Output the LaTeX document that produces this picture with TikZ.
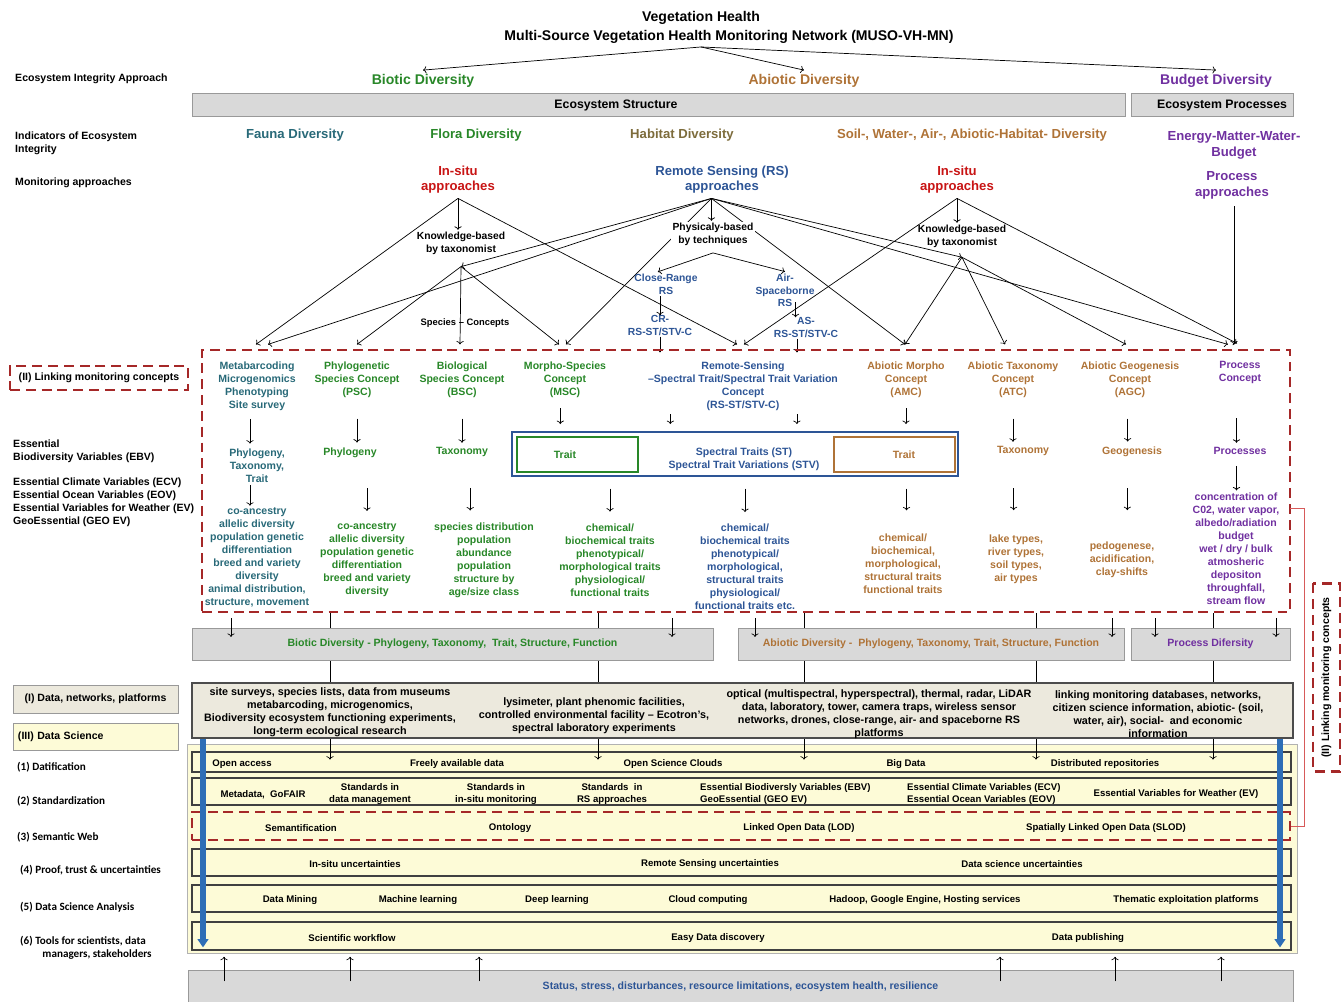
\documentclass[tikz,border=0pt]{standalone}
\usepackage{fontspec}
\setmainfont{Liberation Sans}
\newfontfamily\califont{Carlito}
\usetikzlibrary{arrows.meta}
\definecolor{bioticgreen}{RGB}{40,135,40}
\definecolor{abioticbrown}{RGB}{175,115,55}
\definecolor{budgetpurple}{RGB}{112,48,160}
\definecolor{insitured}{RGB}{200,20,20}
\definecolor{rsblue}{RGB}{45,85,150}
\definecolor{faunateal}{RGB}{40,105,120}
\definecolor{habitatolive}{RGB}{125,108,60}
\definecolor{dashred}{RGB}{165,40,40}
\definecolor{barfill}{RGB}{217,217,217}
\definecolor{datafill}{RGB}{236,233,221}
\definecolor{scifill}{RGB}{253,251,215}
\definecolor{flowblue}{RGB}{46,110,182}
\definecolor{linkred}{RGB}{215,90,90}

\begin{document}
\begin{tikzpicture}[x=0.03cm, y=-0.03cm,
  every node/.style={inner sep=0pt, yshift=-1.2pt, align=center, font=\bfseries\fontsize{9}{11.1}\selectfont},
  boxnode/.style={yshift=1.2pt},
  titletext/.style={font=\bfseries\fontsize{12}{14}\selectfont},
  headtext/.style={font=\bfseries\fontsize{12}{14}\selectfont},
  subhead/.style={font=\bfseries\fontsize{11.2}{13.2}\selectfont},
  bartext/.style={font=\bfseries\fontsize{10.5}{12}\selectfont},
  sidelabel/.style={anchor=west, align=left, font=\bfseries\fontsize{9}{11.1}\selectfont},
  steplabel/.style={anchor=west, align=left, font=\califont\bfseries\fontsize{9.5}{11.3}\selectfont},
  smalltext/.style={font=\bfseries\fontsize{8.8}{10.6}\selectfont},
  rowtext/.style={font=\bfseries\fontsize{8.2}{10.2}\selectfont},
  datatext/.style={font=\bfseries\fontsize{9.2}{11}\selectfont},
  arr/.style={->, line width=0.6pt},
  drop/.style 2 args={->, line width=0.6pt, shorten <=#1, shorten >=#2},
  graybar/.style={boxnode, draw=black!40, fill=barfill, line width=0.8pt},
  redbox/.style={draw=dashred, dash pattern=on 8.5pt off 5pt, line width=2.4pt},
  rowbox/.style={boxnode, draw=black!75, fill=scifill, line width=1pt, minimum width=32.97cm},
  flow/.style={-{Triangle[width=9pt,length=7pt]}, line width=4.3pt, draw=flowblue}
]
\useasboundingbox (0,0) rectangle (1343,1001);

% title and integrity approach
\node[titletext] (veg) at (701,16) {Vegetation Health};
\node[titletext] (muso) at (729,35) {Multi-Source Vegetation Health Monitoring Network (MUSO-VH-MN)};
\coordinate (split) at ([yshift=-2pt]muso.south -| veg.south);
\node[sidelabel] (eia) at (15,77) {Ecosystem Integrity Approach};
\node[headtext, text=bioticgreen] (biotic) at (423,79) {Biotic Diversity};
\node[headtext, text=abioticbrown] (abiotic) at (804,79) {Abiotic Diversity};
\node[headtext, text=budgetpurple] (budget) at (1216,79) {Budget Diversity};
\draw[arr] (split) -- ([yshift=3pt]biotic.north);
\draw[arr] (split) -- ([yshift=3pt]abiotic.north);
\draw[arr] (split) -- ([yshift=3pt]budget.north);

\node[graybar, minimum width=27.99cm, minimum height=0.69cm] (structbar) at (658.5,104.5) {};
\node[graybar, minimum width=4.86cm, minimum height=0.69cm] (procbar) at (1212,104.5) {};
\node[bartext] (structtxt) at (616,104.5) {Ecosystem Structure};
\node[bartext] (proctxt) at (1222,104.5) {Ecosystem Processes};

% indicators
\node[sidelabel] (indic) at (15,141.5) {Indicators of Ecosystem\\Integrity};
\node[subhead, text=faunateal] (fauna) at (295,134) {Fauna Diversity};
\node[subhead, text=bioticgreen] (flora) at (476,134) {Flora Diversity};
\node[subhead, text=habitatolive] (habitat) at (682,134) {Habitat Diversity};
\node[subhead, text=abioticbrown] (soil) at (972,134) {Soil-, Water-, Air-, Abiotic-Habitat- Diversity};
\node[subhead, text=budgetpurple, font=\bfseries\fontsize{11.2}{13.7}\selectfont] (energy) at (1234,144) {Energy-Matter-Water-\\Budget};

% monitoring approaches
\node[sidelabel] (monit) at (15,181) {Monitoring approaches};
\node[subhead, text=insitured] (insitu1) at (458,178) {In-situ\\approaches};
\node[subhead, text=rsblue] (rs) at (722,178) {Remote Sensing (RS)\\approaches};
\node[subhead, text=insitured] (insitu2) at (957,178) {In-situ\\approaches};
\node[subhead, text=budgetpurple] (procapp) at (1232,184) {Process\\approaches};

\coordinate (is1) at ([yshift=-3pt]insitu1.south);
\coordinate (rsapex) at ([xshift=-9pt,yshift=-3pt]rs.south);
\coordinate (is2) at ([yshift=-3pt]insitu2.south);

\node[smalltext] (kb1) at (461,242) {Knowledge-based\\by taxonomist};
\node[smalltext] (kb2) at (962,235) {Knowledge-based\\by taxonomist};
\coordinate (kb1apex) at ([yshift=-9pt]kb1.south);
\coordinate (kb2apex) at ([yshift=-7pt]kb2.south);

\coordinate (tmeta1) at (256,343);
\coordinate (tmeta2) at (268,343);
\coordinate (tpsc) at (357,343);
\coordinate (tbsc) at (460,343);
\coordinate (tmsc1) at (559,343);
\coordinate (tmsc2) at (566,343);
\coordinate (trs1) at (737,343);
\coordinate (trs2) at (744,343);
\coordinate (tamc) at (905,343);
\coordinate (tatc) at (1005,343);
\coordinate (tagc) at (1126,343);
\coordinate (tproc1) at (1228,343);
\coordinate (tproc2) at (1237,342);
\coordinate (tproc3) at (1234,343);

\draw[arr, shorten >=2pt] (is1) -- (is1 |- kb1.north);
\draw[arr] (is1) -- (tmeta1);
\draw[arr] (is1) -- (trs1);
\draw[arr] (rsapex) -- (kb1apex);
\draw[arr] (rsapex) -- (tmeta2);
\draw[arr] (rsapex) -- (tmsc2);
\draw[arr] (rsapex) -- (tamc);
\draw[arr] (rsapex) -- (kb2apex);
\draw[arr] (rsapex) -- (tproc1);
\draw[arr] (kb1apex) -- (tpsc);
\draw[arr] (kb1apex) -- (tbsc);
\draw[arr] (kb1apex) -- (tmsc1);
\draw[arr, shorten >=2pt] (is2) -- (is2 |- kb2.north);
\draw[arr] (is2) -- (trs2);
\draw[arr] (is2) -- (tproc2);
\draw[arr] (kb2apex) -- (tamc);
\draw[arr] (kb2apex) -- (tatc);
\draw[arr] (kb2apex) -- (tagc);
\draw[arr, shorten <=6pt] (procapp.south -| tproc3) -- (tproc3);
\node[smalltext, font=\bfseries\fontsize{8}{10}\selectfont] (spc) at (465,322) {Species -- Concepts};

\node[smalltext, fill=white, inner sep=1pt] (pb) at (713,233) {Physicaly-based\\by techniques};
\draw[arr, shorten >=1pt] (rsapex) -- (rsapex |- pb.north);
\coordinate (pbapex) at ([yshift=-4pt]pb.south);
\node[smalltext, text=rsblue] (cr) at (666,283) {Close-Range\\RS};
\node[smalltext, text=rsblue] (airrs) at (785,289) {Air-\\Spaceborne\\RS};
\draw[arr] (pbapex) -- ([xshift=-7pt,yshift=2pt]cr.north);
\draw[arr] (pbapex) -- ([yshift=2pt]airrs.north);
\node[smalltext, text=rsblue] (crst) at (660,324) {CR-\\RS-ST/STV-C};
\node[smalltext, text=rsblue] (asst) at (806,326) {AS-\\RS-ST/STV-C};
\draw[arr, shorten <=1pt] (cr.south -| crst.north) -- (crst.north);
\draw[arr] ([xshift=9pt,yshift=4pt]airrs.south) -- ([xshift=9pt]airrs.south |- asst.north);
\coordinate (tcr) at (660,351);
\coordinate (tas) at (797,351);
\draw[arr, shorten <=1pt] (crst.south -| tcr) -- (tcr);
\draw[arr, shorten <=1pt] (asst.south -| tas) -- (tas);

% linking concepts
\node[boxnode, redbox, minimum width=32.64cm, minimum height=7.86cm] (linkbox) at (746,481) {};
\node[boxnode, redbox, minimum width=5.34cm, minimum height=0.72cm] (linkleft) at (99,378) {(II) Linking monitoring concepts};
\node[sidelabel] (ebvlbl) at (13,449.5) {Essential\\Biodiversity Variables (EBV)};
\node[sidelabel] (ecvlbl) at (13,500.5) {Essential Climate Variables (ECV)\\Essential Ocean Variables (EOV)\\Essential Variables for Weather (EV)\\GeoEssential (GEO EV)};

\node[text=faunateal] (meta) at (257,384.5) {Metabarcoding\\Microgenomics\\Phenotyping\\Site survey};
\node[text=bioticgreen] (psc) at (357,378) {Phylogenetic\\Species Concept\\(PSC)};
\node[text=bioticgreen] (bsc) at (462,378) {Biological\\Species Concept\\(BSC)};
\node[text=bioticgreen] (msc) at (565,378) {Morpho-Species\\Concept\\(MSC)};
\node[text=rsblue] (rsc) at (743,384.5) {Remote-Sensing\\--Spectral Trait/Spectral Trait Variation\\Concept\\(RS-ST/STV-C)};
\node[text=abioticbrown] (amc) at (906,378) {Abiotic Morpho\\Concept\\(AMC)};
\node[text=abioticbrown] (atc) at (1013,378) {Abiotic Taxonomy\\Concept\\(ATC)};
\node[text=abioticbrown] (agc) at (1130,378) {Abiotic Geogenesis\\Concept\\(AGC)};
\node[text=budgetpurple] (pc) at (1240,371.5) {Process\\Concept};

\node[text=faunateal] (phytax) at (257,464) {Phylogeny,\\Taxonomy,\\Trait};
\node[text=bioticgreen] (phy) at (350,451) {Phylogeny};
\node[text=bioticgreen] (tax) at (462,451) {Taxonomy};
\node[boxnode, draw=rsblue, line width=1.6pt, minimum width=13.38cm, minimum height=1.32cm] (stbox) at (735,454) {};
\node[boxnode, draw=bioticgreen, line width=1.8pt, minimum width=3.63cm, minimum height=1.05cm] (greenbox) at (577.5,454.5) {};
\node[boxnode, draw=abioticbrown, line width=1.8pt, minimum width=3.63cm, minimum height=1.05cm] (brownbox) at (894.5,454.5) {};
\node[text=bioticgreen] (traitg) at (565,453) {Trait};
\node[text=rsblue] (stv) at (744,457.5) {Spectral Traits (ST)\\Spectral Trait Variations (STV)};
\node[text=abioticbrown] (traitb) at (904,453) {Trait};
\node[text=abioticbrown] (tax2) at (1023,450) {Taxonomy};
\node[text=abioticbrown] (geo) at (1132,450) {Geogenesis};
\node[text=budgetpurple] (procs) at (1240,450) {Processes};

\node[text=faunateal] (out1) at (257,555.5) {co-ancestry\\allelic diversity\\population genetic\\differentiation\\breed and variety\\diversity\\animal distribution,\\structure, movement};
\node[text=bioticgreen] (out2) at (367,558.5) {co-ancestry\\allelic diversity\\population genetic\\differentiation\\breed and variety\\diversity};
\node[text=bioticgreen] (out3) at (484,558.5) {species distribution\\population\\abundance\\population\\structure by\\age/size class};
\node[text=bioticgreen] (out4) at (610,558.5) {chemical/\\biochemical traits\\phenotypical/\\morphological traits\\physiological/\\functional traits};
\node[text=rsblue] (out5) at (745,565.5) {chemical/\\biochemical traits\\phenotypical/\\morphological,\\structural traits\\physiological/\\functional traits etc.};
\node[text=abioticbrown] (out6) at (903,562.5) {chemical/\\biochemical,\\morphological,\\structural traits\\functional traits};
\node[text=abioticbrown] (out7) at (1016,558) {lake types,\\river types,\\soil types,\\air types};
\node[text=abioticbrown] (out8) at (1122,558.5) {pedogenese,\\acidification,\\clay-shifts};
\node[text=budgetpurple] (out9) at (1236,547.5) {concentration of\\C02, water vapor,\\albedo/radiation\\budget\\wet / dry / bulk\\atmosheric\\depositon\\throughfall,\\stream flow};

\draw[drop={7pt}{4pt}] ([xshift=-6pt]meta.south) -- ([xshift=-6pt]meta.south |- phytax.north);
\draw[drop={18pt}{4pt}] (psc.south) -- (psc.south |- phy.north);
\draw[drop={18pt}{4pt}] (bsc.south) -- (bsc.south |- tax.north);
\draw[drop={9pt}{6pt}] ([xshift=-4pt]msc.south) -- ([xshift=-4pt]msc.south |- stbox.north);
\draw[drop={3pt}{6pt}] ([xshift=-62pt]rsc.south) -- ([xshift=-62pt]rsc.south |- stbox.north);
\draw[drop={3pt}{6pt}] ([xshift=46pt]rsc.south) -- ([xshift=46pt]rsc.south |- stbox.north);
\draw[drop={9pt}{6pt}] (amc.south) -- (amc.south |- stbox.north);
\draw[drop={18pt}{4pt}] (atc.south) -- (atc.south |- tax2.north);
\draw[drop={18pt}{4pt}] ([xshift=-2pt]agc.south) -- ([xshift=-2pt]agc.south |- geo.north);
\draw[drop={29pt}{4pt}] ([xshift=-3pt]pc.south) -- ([xshift=-3pt]pc.south |- procs.north);

\draw[drop={2pt}{1pt}] ([xshift=-6pt]phytax.south) -- ([xshift=-6pt]phytax.south |- out1.north);
\draw[drop={26pt}{10pt}] (phy.south -| out2.north) -- (out2.north);
\draw[drop={26pt}{10pt}] ([xshift=7pt]tax.south) -- ([xshift=7pt]tax.south |- out3.north);
\draw[drop={10pt}{10pt}] (stbox.south -| out4.north) -- (out4.north);
\draw[drop={10pt}{10pt}] (stbox.south -| out5.north) -- (out5.north);
\draw[drop={10pt}{20pt}] ([xshift=3pt]stbox.south -| out6.north) -- ([xshift=3pt]out6.north);
\draw[drop={27pt}{21pt}] ([xshift=-8pt]tax2.south) -- ([xshift=-8pt]tax2.south |- out7.north);
\draw[drop={27pt}{27pt}] ([xshift=-4pt]geo.south) -- ([xshift=-4pt]geo.south |- out8.north);
\draw[drop={9pt}{2pt}] ([xshift=-3pt]procs.south) -- ([xshift=-3pt]procs.south |- out9.north);

% data science block
\node[boxnode, draw=black!30, fill=scifill, minimum width=33.3cm, minimum height=6.27cm] (scibox) at (742,848.5) {};
\node[rowbox, minimum height=0.6cm] (datrow) at (741.5,762) {};
\node[rowbox, minimum height=0.81cm] (stdrow) at (741.5,791.5) {};
\node[boxnode, redbox, minimum width=32.94cm, minimum height=0.84cm] (semrow) at (741,826) {};
\node[rowbox, minimum height=0.81cm] (prfrow) at (741.5,862.5) {};
\node[rowbox, minimum height=0.81cm] (anarow) at (741.5,898.5) {};
\node[rowbox, minimum height=0.84cm] (toolrow) at (741.5,936) {};

\foreach \x in {330,598,804,1036,1213}
  \draw[arr] (linkbox.south -| \x,0) -- ([yshift=-7pt]datrow.north -| \x,0);

\node[graybar, text=bioticgreen, minimum width=15.63cm, minimum height=0.96cm] (bioticbar) at (452.5,644) {Biotic Diversity - Phylogeny, Taxonomy,\ \ Trait, Structure, Function};
\node[graybar, text=abioticbrown, minimum width=11.58cm, minimum height=0.96cm] (abioticbar) at (931,644) {Abiotic Diversity -\ \ Phylogeny, Taxonomy, Trait, Structure, Function};
\node[graybar, text=budgetpurple, minimum width=4.77cm, minimum height=0.96cm] (procbar2) at (1210.5,644) {Process Difersity};
\foreach \x/\b in {231/bioticbar,672/bioticbar,755/abioticbar,1112/abioticbar,1155/procbar2,1276/procbar2}
  \draw[arr, shorten <=4pt] (linkbox.south -| \x,0) -- ([yshift=-8pt]\b.north -| \x,0);

\node[boxnode, draw=black!70, fill=datafill, line width=1pt, minimum width=33.03cm, minimum height=1.65cm] (datbox) at (742.5,710.5) {};
\node[datatext] (d1) at (330,710.5) {site surveys, species lists, data from museums\\metabarcoding, microgenomics,\\Biodiversity ecosystem functioning experiments,\\long-term ecological research};
\node[datatext] (d2) at (594,714) {lysimeter, plant phenomic facilities,\\controlled environmental facility -- Ecotron's,\\spectral laboratory experiments};
\node[datatext] (d3) at (879,713) {optical (multispectral, hyperspectral), thermal, radar, LiDAR\\data, laboratory, tower, camera traps, wireless sensor\\networks, drones, close-range, air- and spaceborne RS\\platforms};
\node[datatext] (d4) at (1158,713) {linking monitoring databases, networks,\\citizen science information, abiotic- (soil,\\water, air), social-\ \ and economic\\information};

\coordinate (flowL) at (203,946);
\coordinate (flowR) at (1280,946);
\draw[flow] (datbox.south -| flowL) -- (flowL);
\draw[flow] (datbox.south -| flowR) -- (flowR);

\node[rowtext] (r11) at (242,763) {Open access};
\node[rowtext] (r12) at (457,763) {Freely available data};
\node[rowtext] (r13) at (673,763) {Open Science Clouds};
\node[rowtext] (r14) at (906,763) {Big Data};
\node[rowtext] (r15) at (1105,763) {Distributed repositories};
\node[rowtext] (r21) at (263,793) {Metadata,\ \ GoFAIR};
\node[rowtext] (r22) at (370,793) {Standards in\\data management};
\node[rowtext] (r23) at (496,793) {Standards in\\in-situ monitoring};
\node[rowtext] (r24) at (612,793) {Standards\ \ in\\RS approaches};
\node[rowtext, anchor=west, align=left] (r25) at (700,793) {Essential Biodiversly Variables (EBV)\\GeoEssential (GEO EV)};
\node[rowtext, anchor=west, align=left] (r26) at (907,793) {Essential Climate Variables (ECV)\\Essential Ocean Variables (EOV)};
\node[rowtext] (r27) at (1176,793) {Essential Variables for Weather (EV)};
\node[rowtext] (r31) at (301,827) {Semantification};
\node[rowtext] (r32) at (510,827) {Ontology};
\node[rowtext] (r33) at (799,827) {Linked Open Data (LOD)};
\node[rowtext] (r34) at (1106,827) {Spatially Linked Open Data (SLOD)};
\node[rowtext] (r41) at (355,863) {In-situ uncertainties};
\node[rowtext] (r42) at (710,863) {Remote Sensing uncertainties};
\node[rowtext] (r43) at (1022,863) {Data science uncertainties};
\node[rowtext] (r51) at (290,899) {Data Mining};
\node[rowtext] (r52) at (418,899) {Machine learning};
\node[rowtext] (r53) at (557,899) {Deep learning};
\node[rowtext] (r54) at (708,899) {Cloud computing};
\node[rowtext] (r55) at (925,899) {Hadoop, Google Engine, Hosting services};
\node[rowtext] (r56) at (1186,899) {Thematic exploitation platforms};
\node[rowtext] (r61) at (352,937) {Scientific workflow};
\node[rowtext] (r62) at (718,937) {Easy Data discovery};
\node[rowtext] (r63) at (1088,937) {Data publishing};

\node[boxnode, draw=black!40, fill=datafill, minimum width=4.95cm, minimum height=0.84cm] (dnp) at (95.5,699) {(I) Data, networks, platforms};
\node[boxnode, draw=black!40, fill=scifill, minimum width=4.95cm, minimum height=0.81cm, text width=4.65cm, align=left] (dsc) at (95.5,736.5) {(III) Data Science};
\node[steplabel] (s1) at (17,766) {(1) Datification};
\node[steplabel] (s2) at (17,800) {(2) Standardization};
\node[steplabel] (s3) at (17,836) {(3) Semantic Web};
\node[steplabel] (s4) at (20,869) {(4) Proof, trust \& uncertainties};
\node[steplabel] (s5) at (20,906) {(5) Data Science Analysis};
\node[steplabel] (s6) at (20,946.5) {(6) Tools for scientists, data\\\hspace*{2em}managers, stakeholders};

% drivers
\node[graybar, text=rsblue, minimum width=33.15cm, minimum height=1.02cm] (statusbar) at (740.5,987) {Status, stress, disturbances, resource limitations, ecosystem health, resilience};
\foreach \x in {224,350,479,1000,1115,1221}
  \draw[arr, shorten >=3pt] ([yshift=-10pt]statusbar.north -| \x,0) -- (scibox.south -| \x,0);

% right side
\node[redbox, rotate=90, minimum width=5.64cm, minimum height=0.81cm] (linkright) at (1326.5,676) {(II) Linking monitoring concepts};
\coordinate (brk) at (1290,507);
\draw[linkred, line width=0.6pt] (brk) -- ++(14,0) |- (semrow.east);

\end{tikzpicture}
\end{document}
